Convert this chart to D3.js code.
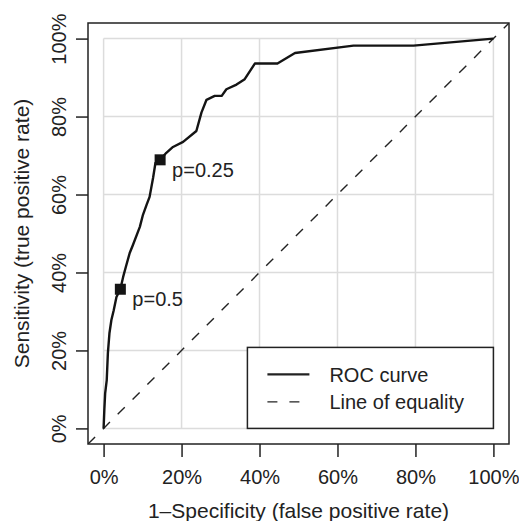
<!DOCTYPE html>
<html>
<head>
<meta charset="utf-8">
<script src="https://cdn.jsdelivr.net/npm/d3@7"></script>
<style>
  html, body { margin: 0; padding: 0; background: #fff; }
  svg { display: block; }
  text { font-family: "Liberation Sans", Arial, Helvetica, sans-serif; fill: #222; }
</style>
</head>
<body>
<div id="chart"></div>
<script>
// ROC curve
const fpr = [0, 0.002, 0.004, 0.008, 0.011, 0.015, 0.020, 0.026, 0.033, 0.043, 0.050, 0.057, 0.067,
  0.075, 0.093, 0.101, 0.110, 0.118, 0.127, 0.133, 0.145, 0.161, 0.178, 0.204, 0.238,
  0.251, 0.264, 0.285, 0.303, 0.315, 0.341, 0.362, 0.388, 0.446, 0.491, 0.641, 0.795, 1.0];
const tpr = [0, 0.050, 0.090, 0.123, 0.193, 0.244, 0.278, 0.303, 0.337, 0.357, 0.388, 0.414, 0.450,
  0.470, 0.517, 0.548, 0.573, 0.594, 0.643, 0.681, 0.689, 0.707, 0.722, 0.735, 0.763,
  0.810, 0.843, 0.853, 0.853, 0.870, 0.882, 0.896, 0.936, 0.936, 0.963, 0.982, 0.982, 1.0];

// highlighted cut-offs
const cutLabels = ['p=0.5', 'p=0.25'];
const cutFpr = [0.043, 0.145];
const cutTpr = [0.357, 0.689];

const tickValues = [0, 0.2, 0.4, 0.6, 0.8, 1];
const legendLabels = ['ROC curve', 'Line of equality'];
const xTitle = '1\u2013Specificity (false positive rate)';
const yTitle = 'Sensitivity (true positive rate)';

const width = 519, height = 521;
const box = {left: 88, right: 509, top: 23, bottom: 444};
const fontSize = 20;
const titleSize = 21;

const svg = d3.select('#chart').append('svg')
    .attr('width', width)
    .attr('height', height);

const x = d3.scaleLinear().domain([-0.04, 1.04]).range([box.left, box.right]);
const y = d3.scaleLinear().domain([-0.04, 1.04]).range([box.bottom, box.top]);
const pct = d3.format('.0%');

svg.append('defs').append('clipPath')
    .attr('id', 'plot-clip')
    .append('rect')
    .attr('x', box.left).attr('y', box.top)
    .attr('width', box.right - box.left)
    .attr('height', box.bottom - box.top);

// grid
const grid = svg.append('g').attr('class', 'grid')
    .attr('stroke', '#dcdcdc')
    .attr('stroke-width', 1.5);
grid.selectAll('.gx').data(tickValues).enter().append('line')
    .attr('x1', d => x(d)).attr('x2', d => x(d))
    .attr('y1', y(0)).attr('y2', y(1));
grid.selectAll('.gy').data(tickValues).enter().append('line')
    .attr('y1', d => y(d)).attr('y2', d => y(d))
    .attr('x1', x(0)).attr('x2', x(1));

const plot = svg.append('g').attr('clip-path', 'url(#plot-clip)');

// line of equality
plot.append('line')
    .attr('x1', x(-0.04)).attr('y1', y(-0.04))
    .attr('x2', x(1.04)).attr('y2', y(1.04))
    .attr('stroke', '#222')
    .attr('stroke-width', 1.4)
    .attr('stroke-dasharray', '10,11');

// roc curve
const pts = fpr.map((d, i) => [d, tpr[i]]);
plot.append('path')
    .datum(pts)
    .attr('fill', 'none')
    .attr('stroke', '#141414')
    .attr('stroke-width', 2.4)
    .attr('stroke-linejoin', 'round')
    .attr('d', d3.line().x(d => x(d[0])).y(d => y(d[1])));

// cut-off markers
const ms = 11;
const cut = svg.append('g').selectAll('g')
    .data(cutLabels.map((l, i) => ({label: l, fx: cutFpr[i], ty: cutTpr[i]})))
    .enter().append('g')
    .attr('transform', d => `translate(${x(d.fx)},${y(d.ty)})`);
cut.append('rect')
    .attr('x', -ms / 2).attr('y', -ms / 2)
    .attr('width', ms).attr('height', ms)
    .attr('fill', '#141414');
cut.append('text')
    .attr('x', 12).attr('y', 17)
    .attr('font-size', fontSize)
    .text(d => d.label);

// box
svg.append('rect')
    .attr('x', box.left).attr('y', box.top)
    .attr('width', box.right - box.left)
    .attr('height', box.bottom - box.top)
    .attr('fill', 'none')
    .attr('stroke', '#222')
    .attr('stroke-width', 1.5);

// axes
const xAxis = svg.append('g')
    .attr('transform', `translate(0,${box.bottom})`)
    .call(d3.axisBottom(x).tickValues(tickValues).tickFormat(pct).tickSize(13).tickPadding(13));
xAxis.select('.domain').remove();
xAxis.selectAll('.tick line').attr('stroke', '#222').attr('stroke-width', 1.5);
xAxis.selectAll('.tick text')
    .attr('font-size', fontSize)
    .attr('font-family', null)
    .attr('fill', '#222');

const yAxis = svg.append('g')
    .attr('transform', `translate(${box.left},0)`)
    .call(d3.axisLeft(y).tickValues(tickValues).tickFormat(pct).tickSize(12));
yAxis.select('.domain').remove();
yAxis.selectAll('.tick line').attr('stroke', '#222').attr('stroke-width', 1.5);
yAxis.selectAll('.tick text')
    .attr('x', null).attr('dy', null)
    .attr('text-anchor', 'middle')
    .attr('transform', 'translate(-22,0) rotate(-90)')
    .attr('font-size', fontSize)
    .attr('font-family', null)
    .attr('fill', '#222');

// titles
svg.append('text')
    .attr('x', (box.left + box.right) / 2)
    .attr('y', 518)
    .attr('text-anchor', 'middle')
    .attr('font-size', titleSize)
    .text(xTitle);
svg.append('text')
    .attr('transform', `translate(29,${(box.top + box.bottom) / 2}) rotate(-90)`)
    .attr('text-anchor', 'middle')
    .attr('font-size', titleSize)
    .text(yTitle);

// legend, anchored to the (1, 0) corner
const lgW = 246, lgH = 81;
const lg = svg.append('g')
    .attr('transform', `translate(${x(1) - lgW},${y(0) - lgH})`);
lg.append('rect')
    .attr('width', lgW).attr('height', lgH)
    .attr('fill', '#fff')
    .attr('stroke', '#222')
    .attr('stroke-width', 1.5);
const items = lg.selectAll('.item')
    .data(legendLabels)
    .enter().append('g')
    .attr('transform', (d, i) => `translate(0,${27 + i * 27.5})`);
items.append('line')
    .attr('x1', 20).attr('x2', 62)
    .attr('stroke', '#222')
    .attr('stroke-width', (d, i) => i === 0 ? 2.4 : 1.4)
    .attr('stroke-dasharray', (d, i) => i === 0 ? null : '10,12');
items.append('text')
    .attr('x', 82).attr('y', 7.5)
    .attr('font-size', fontSize)
    .text(d => d);
</script>
</body>
</html>
